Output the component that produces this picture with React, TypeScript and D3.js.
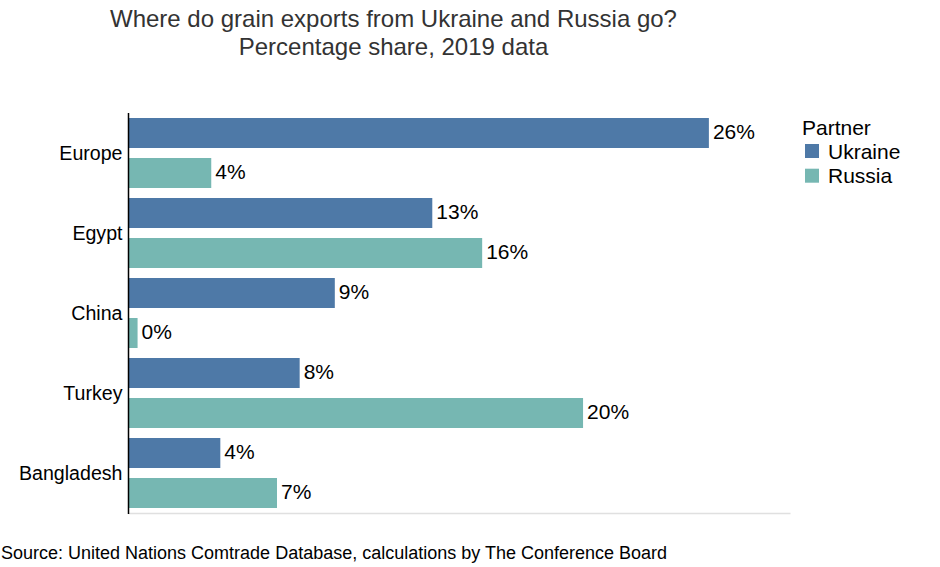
import React from 'react';
import * as d3 from 'd3';

const categories = ['Europe', 'Egypt', 'China', 'Turkey', 'Bangladesh'];
const partners = ['Ukraine', 'Russia'];
const ukraineShare = [25.6, 13.4, 9.1, 7.55, 4.05];
const russiaShare = [3.65, 15.6, 0.4, 20.05, 6.55];
const partnerColors = ['#4e79a7', '#76b7b2'];
const xMax = 29.2;

const titleLines = ['Where do grain exports from Ukraine and Russia go?', 'Percentage share, 2019 data'];
const sourceText = 'Source: United Nations Comtrade Database, calculations by The Conference Board';

const W = 940;
const H = 567;
const plot = { left: 128.5, right: 790.5, top: 113, bottom: 513 };
const FONT = '"Liberation Sans", Arial, sans-serif';

const App = () => {
  const x = d3.scaleLinear().domain([0, xMax]).range([plot.left, plot.right]);
  const y = d3.scaleBand().domain(categories).range([plot.top, plot.bottom]);
  const inner = d3
    .scaleBand()
    .domain(partners)
    .range([0, y.bandwidth()])
    .paddingInner(0.25)
    .paddingOuter(0.125);
  const color = d3.scaleOrdinal<string, string>().domain(partners).range(partnerColors);

  const seriesValues: Record<string, number[]> = {
    Ukraine: ukraineShare,
    Russia: russiaShare,
  };

  const bars = categories.flatMap((cat, i) =>
    partners.map((p) => ({ cat, partner: p, value: seriesValues[p][i] }))
  );

  return (
    <div style={{ position: 'absolute', left: 0, top: 0 }}>
      <svg width={W} height={H} style={{ display: 'block', fontFamily: FONT }}>
        <rect width={W} height={H} fill="#fff" />

        {titleLines.map((t, i) => (
          <text
            key={t}
            x={393.5}
            y={27 + i * 28}
            textAnchor="middle"
            fontSize={24}
            fill="#333"
          >
            {t}
          </text>
        ))}

        {/* bottom guide line */}
        <line x1={plot.left} x2={plot.right} y1={plot.bottom + 0.5} y2={plot.bottom + 0.5} stroke="#e0e0e0" strokeWidth={1.5} />

        {bars.map((b) => {
          const yy = (y(b.cat) as number) + (inner(b.partner) as number);
          const x1 = x(b.value);
          return (
            <g key={b.cat + b.partner}>
              <rect
                x={x(0)}
                y={yy}
                width={x1 - x(0)}
                height={inner.bandwidth()}
                fill={color(b.partner)}
              />
              <text
                x={x1 + 4}
                y={yy + inner.bandwidth() / 2}
                dy="0.3em"
                fontSize={21}
                fill="#000"
              >
                {`${Math.round(b.value)}%`}
              </text>
            </g>
          );
        })}

        {/* y axis */}
        <line x1={plot.left} x2={plot.left} y1={plot.top} y2={plot.bottom + 1} stroke="#000" strokeWidth={1.5} />
        {categories.map((c) => (
          <text
            key={c}
            x={plot.left - 6}
            y={(y(c) as number) + y.bandwidth() / 2}
            dy="0.35em"
            textAnchor="end"
            fontSize={19.6}
            fill="#000"
          >
            {c}
          </text>
        ))}

        {/* legend */}
        <g transform="translate(802,0)">
          <text x={0} y={135} fontSize={21} fill="#000">
            Partner
          </text>
          {partners.map((p, i) => (
            <g key={p} transform={`translate(3,${144 + i * 24.7})`}>
              <rect width={14} height={14} fill={color(p)} />
              <text x={23} y={7} dy="0.36em" fontSize={21} fill="#000">
                {p}
              </text>
            </g>
          ))}
        </g>

        <text x={1} y={559} fontSize={18} fill="#000">
          {sourceText}
        </text>
      </svg>
    </div>
  );
};

export default App;
